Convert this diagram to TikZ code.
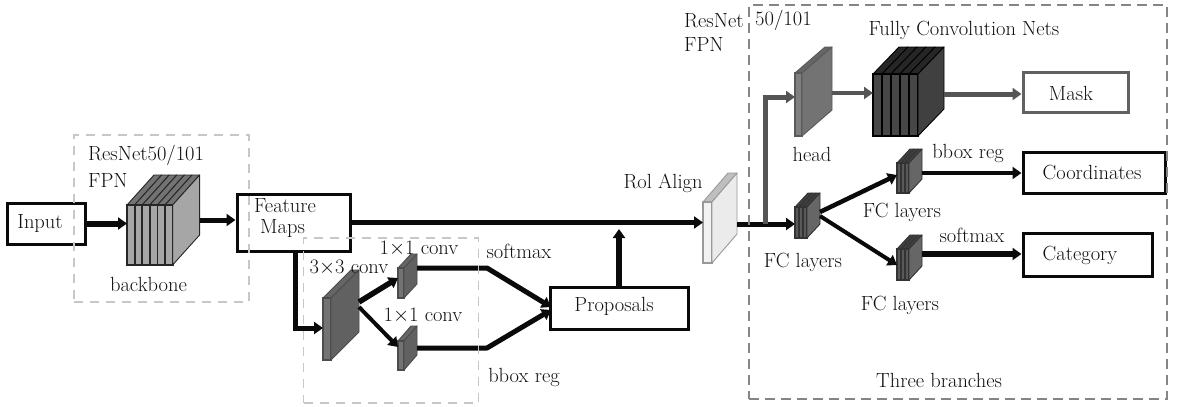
\documentclass[tikz,border=0pt]{standalone}
\usetikzlibrary{arrows.meta}
\definecolor{inkc}{HTML}{0A0A0A}
\definecolor{txtc}{HTML}{111111}
\definecolor{headc}{HTML}{555555}
\tikzset{
  x=1pt,y=-1pt,
  lbl/.style={inner sep=0pt,text=txtc,font=\fontsize{20.5}{23}\selectfont,anchor=center},
  boxn/.style={draw=inkc,line width=3pt,fill=white,inner sep=0pt},
  hit/.style={inner sep=0pt,outer sep=0pt,draw=none},
  flow/.style={draw=inkc,line width=#1,-{Triangle[length=9pt,width=12pt]},line join=miter},
  flow/.default=4.5pt,
  dashA/.style={draw=black!22,line width=1.6pt,dash pattern=on 9pt off 7pt},
  dashB/.style={draw=black!48,line width=1.8pt,dash pattern=on 10pt off 6pt},
}
\newcommand{\blockstack}[9]{%
  \def\bx{#2}\def\bt{#3}\def\bb{#4}\def\bdx{#5}\def\bdy{#6}%
  \blockrest{#1}{#7}{#8}{#9}}
\newcommand{\blockrest}[7]{%
  \foreach \i in {1,...,#2}{%
    \pgfmathsetmacro{\xa}{\bx+(\i-1)*#3}%
    \pgfmathsetmacro{\xb}{\xa+#3}%
    \fill[#6,draw=#7,line width=0.9pt,line join=round] (\xa,\bt) -- (\xa+\bdx,\bt+\bdy) -- (\xb+\bdx,\bt+\bdy) -- (\xb,\bt) -- cycle;
    \fill[#4,draw=#7,line width=1.8pt] (\xa,\bt) rectangle (\xb,\bb);
  }%
  \pgfmathsetmacro{\xe}{\bx+#2*#3}%
  \fill[#5,draw=#7,line width=0.9pt,line join=round] (\xe,\bt) -- (\xe+\bdx,\bt+\bdy) -- (\xe+\bdx,\bb+\bdy) -- (\xe,\bb) -- cycle;
  \pgfmathsetmacro{\nw}{#2*#3+\bdx}%
  \pgfmathsetmacro{\nh}{\bb-\bt-\bdy}%
  \node[hit,minimum width=\nw pt,minimum height=\nh pt] (#1) at (\bx+\nw/2,\bt+\bdy+\nh/2) {};%
}
\begin{document}
\begin{tikzpicture}
\useasboundingbox (0,0) rectangle (1181,407);
\fill[white] (0,0) rectangle (1181,407);

% boxes
\node[boxn,minimum width=78pt,minimum height=41pt] (input) at (46,223.5) {};
\node[boxn,minimum width=113pt,minimum height=57pt] (fm) at (293.5,222.5) {};
\node[boxn,minimum width=138pt,minimum height=42pt] (prop) at (619,308) {};
\node[boxn,draw=black!62,minimum width=105pt,minimum height=40pt] (mask) at (1075.5,92) {};
\node[boxn,minimum width=142pt,minimum height=41pt] (coord) at (1094,172.5) {};
\node[boxn,minimum width=129pt,minimum height=43pt] (cat) at (1087.5,254.5) {};

% blocks
\blockstack{backbone}{127}{205}{265}{27}{-30}{6}{7.6}{black!35}{black!35}{black!55}{black!85}{black!50}
\blockstack{convA}{323}{298}{360}{28}{-28}{1}{8}{black!55}{black!62}{black!60}{black!70}{black!60}
\blockstack{convB}{398}{268}{298}{13}{-14}{1}{6}{black!55}{black!62}{black!60}{black!70}{black!60}
\blockstack{convC}{398}{341}{370}{13}{-15}{1}{6}{black!55}{black!62}{black!60}{black!70}{black!60}
\blockstack{roi}{703}{202}{263}{25}{-29}{1}{9}{black!5}{black!8}{black!25}{black!40}{black!40}
\blockstack{head}{795}{73}{136}{30}{-26}{1}{7}{black!50}{black!55}{black!60}{black!65}{black!65}
\blockstack{fcn}{873}{74}{136}{26}{-27}{5}{9}{black!72}{black!75}{black!85}{black}{black!85}
\blockstack{fca}{795}{207}{238}{13}{-14}{3}{4}{black!65}{black!60}{black!75}{black!80}{black!85}
\blockstack{fcb}{897}{163}{193}{13}{-14}{3}{4}{black!65}{black!60}{black!75}{black!80}{black!85}
\blockstack{fcc}{897}{249}{280}{13}{-14}{3}{4}{black!65}{black!60}{black!75}{black!80}{black!85}

% ports and bends
\coordinate (j1) at (619,229);
\coordinate (fmS) at (295,252);
\coordinate (fmB) at (295,328);
\coordinate (convAin) at (323,328);
\coordinate (convAo1) at (359,302);
\coordinate (convAo2) at (359,307);
\coordinate (convBin) at (398,278);
\coordinate (convCin) at (398,347);
\coordinate (convBo) at (417,268);
\coordinate (convCo) at (417,348);
\coordinate (t1) at (487,268);
\coordinate (t2) at (487,348);
\coordinate (propA) at (551,307);
\coordinate (propB) at (551,310);
\coordinate (roiO) at (737,224);
\coordinate (fcaIn) at (795,224);
\coordinate (up0) at (765,224);
\coordinate (up1) at (765,97);
\coordinate (headIn) at (795,97);
\coordinate (headO) at (832,93);
\coordinate (fcnIn) at (873,93);
\coordinate (fcnO) at (944,94);
\coordinate (fcaOa) at (820,212);
\coordinate (fcaOb) at (820,216);
\coordinate (fcbIn) at (897,175);
\coordinate (fccIn) at (897,265);
\coordinate (fcbO) at (922,173);
\coordinate (fccO) at (922,254);

% connectors
\draw[flow=6pt] (input.east) -- (backbone.west |- input.east);
\draw[flow=5pt] (backbone.east) -- (fm.west |- backbone.east);
\draw[flow=5pt] (fm.east) -- (roi.west |- fm.east);
\draw[flow=5pt] (fmS) -- (fmB) -- (convAin);
\draw[flow=5.5pt] (convAo1) -- (convBin);
\draw[flow=4pt] (convAo2) -- (convCin);
\draw[flow=5pt,line join=bevel] (convBo) -- (t1) -- (propA);
\draw[flow=5pt,line join=bevel] (convCo) -- (t2) -- (propB);
\draw[flow=6pt] (prop.north) -- (j1);
\draw[flow=5pt] (roiO) -- (fcaIn);
\draw[flow=5pt,draw=headc] (up0) -- (up1) -- (headIn);
\draw[flow=4.5pt,draw=headc] (headO) -- (fcnIn);
\draw[flow=5pt,draw=headc] (fcnO) -- (mask.west |- fcnO);
\draw[flow=4.5pt] (fcaOa) -- (fcbIn);
\draw[flow=4pt] (fcaOb) -- (fccIn);
\draw[flow=3.5pt] (fcbO) -- (coord.west |- fcbO);
\draw[flow=6pt] (fccO) -- (cat.west |- fccO);

% dashed groups
\node[hit,dashA,minimum width=175pt,minimum height=167pt] (grpA) at (161.5,218.5) {};
\node[hit,dashA,minimum width=175pt,minimum height=165pt] (grpB) at (391,320.5) {};
\node[hit,dashB,minimum width=418pt,minimum height=394pt] (grpC) at (958,202) {};

% labels
\node[lbl] (tInput) at (40,223) {Input};
\node[lbl,anchor=west] (tRes) at (88,155) {ResNet50/101};
\node[lbl,anchor=west] (tFpn) at (88,180) {FPN};
\node[lbl] (tBack) at (148.5,284) {backbone};
\node[lbl,anchor=west] (tFe) at (254,206) {Feature};
\node[lbl,anchor=west] (tMa) at (260,228) {Maps};
\node[lbl] (t33) at (349,268) {3$\times$3 conv};
\node[lbl] (t11a) at (419,249) {1$\times$1 conv};
\node[lbl] (t11b) at (423,316) {1$\times$1 conv};
\node[lbl] (tSm) at (519,251) {softmax};
\node[lbl] (tBb) at (524,377) {bbox reg};
\node[lbl] (tProp) at (614,306) {Proposals};
\node[lbl] (tRoi) at (663,183) {Rol Align};
\node[lbl,anchor=west] (tR2) at (684,21) {ResNet};
\node[lbl,anchor=west] (tR3) at (755,20) {50/101};
\node[lbl,anchor=west] (tF2) at (684,44) {FPN};
\node[lbl] (tFcn) at (964,30) {Fully Convolution Nets};
\node[lbl] (tHead) at (812,154) {head};
\node[lbl] (tFc1) at (803,262) {FC layers};
\node[lbl] (tFc2) at (902,212) {FC layers};
\node[lbl] (tFc3) at (900,305) {FC layers};
\node[lbl] (tBb2) at (968,153) {bbox reg};
\node[lbl] (tSm2) at (972,235) {softmax};
\node[lbl] (tMask) at (1071,93) {Mask};
\node[lbl] (tCoord) at (1092,172) {Coordinates};
\node[lbl] (tCat) at (1080,255) {Category};
\node[lbl] (t3b) at (939,380) {Three branches};
\end{tikzpicture}
\end{document}
